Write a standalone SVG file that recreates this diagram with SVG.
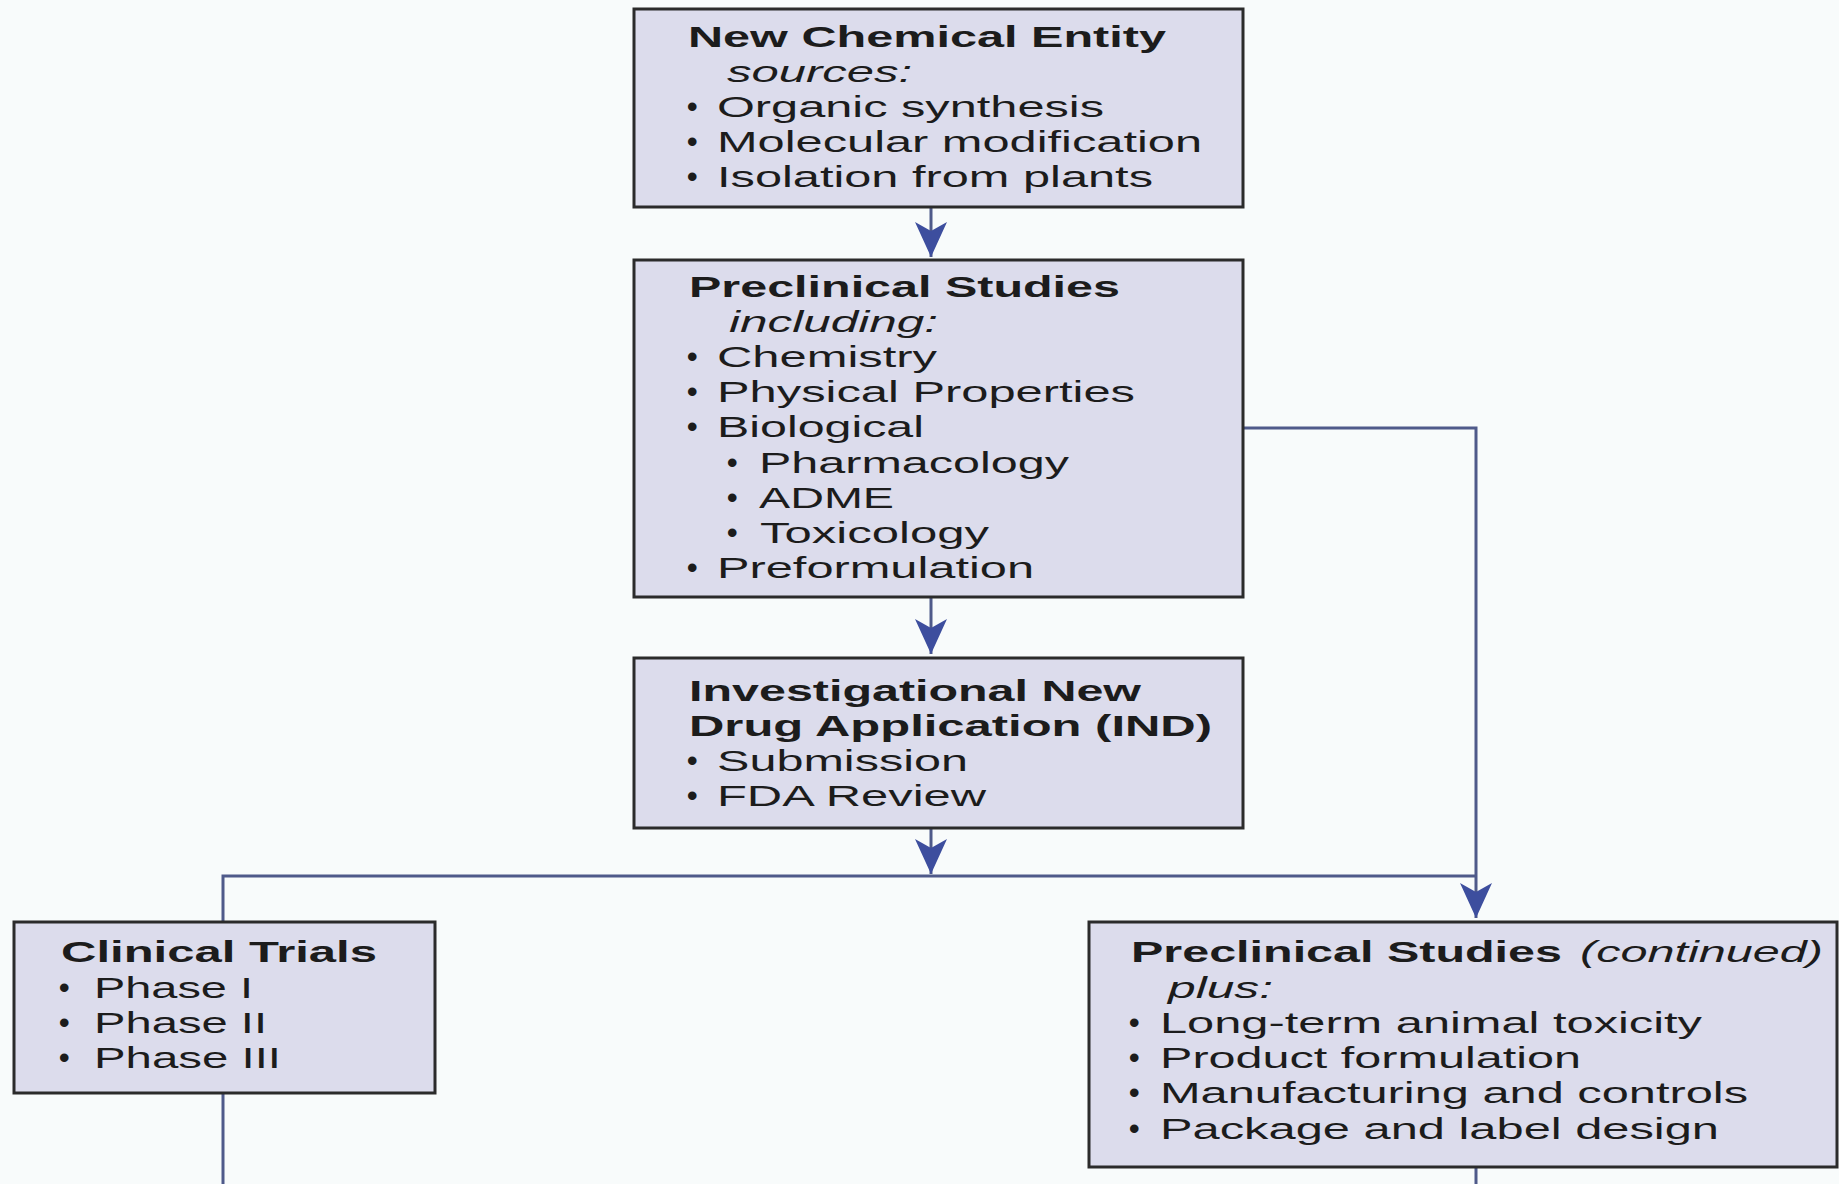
<svg xmlns="http://www.w3.org/2000/svg" width="1839" height="1184" viewBox="0 0 1839 1184">
<style>
.box{fill:#dcdcec;stroke:#2b2b2b;stroke-width:3}
.t{font-family:"Liberation Sans",Arial,sans-serif;font-size:30px;fill:#1c1c1c}
.b{font-weight:bold}
.i{font-style:italic}
.d{font-family:"Liberation Sans",Arial,sans-serif;font-size:30px;font-weight:bold;fill:#1c1c1c}
.c{fill:none;stroke:#4f5a8a;stroke-width:3}
</style>
<defs>
<marker id="ah" markerUnits="userSpaceOnUse" markerWidth="36" markerHeight="34" viewBox="0 0 36 34" refX="35" refY="17" orient="auto">
<path d="M0,1 L35,17 L0,33 L9,17 Z" fill="#3d4e9e"/>
</marker>
</defs>
<rect width="1839" height="1184" fill="#f8fbfb"/>

<g id="connectors">
<path class="c" d="M931,207 V257" marker-end="url(#ah)"/>
<path class="c" d="M931,597 V654" marker-end="url(#ah)"/>
<path class="c" d="M931,828 V874" marker-end="url(#ah)"/>
<path class="c" d="M1243,428 H1476 V918" marker-end="url(#ah)"/>
<path class="c" d="M223,922 V876 H1476"/>
<path class="c" d="M223,1093 V1184"/>
<path class="c" d="M1476,1167 V1184"/>
</g>

<g id="new-chemical-entity">
<rect class="box" x="634" y="9" width="609" height="198"/>
<text class="t b" x="688" y="47" textLength="478" lengthAdjust="spacingAndGlyphs">New Chemical Entity</text>
<text class="t i" x="727" y="82" textLength="185" lengthAdjust="spacingAndGlyphs">sources:</text>
<text class="d" x="687" y="117">•</text>
<text class="t" x="717" y="117" textLength="387" lengthAdjust="spacingAndGlyphs">Organic synthesis</text>
<text class="d" x="687" y="152">•</text>
<text class="t" x="717" y="152" textLength="485" lengthAdjust="spacingAndGlyphs">Molecular modification</text>
<text class="d" x="687" y="187">•</text>
<text class="t" x="717" y="187" textLength="436" lengthAdjust="spacingAndGlyphs">Isolation from plants</text>
</g>

<g id="preclinical-studies">
<rect class="box" x="634" y="260" width="609" height="337"/>
<text class="t b" x="689" y="297" textLength="431" lengthAdjust="spacingAndGlyphs">Preclinical Studies</text>
<text class="t i" x="729" y="332" textLength="209" lengthAdjust="spacingAndGlyphs">including:</text>
<text class="d" x="687" y="367">•</text>
<text class="t" x="717" y="367" textLength="220" lengthAdjust="spacingAndGlyphs">Chemistry</text>
<text class="d" x="687" y="402">•</text>
<text class="t" x="717" y="402" textLength="418" lengthAdjust="spacingAndGlyphs">Physical Properties</text>
<text class="d" x="687" y="437">•</text>
<text class="t" x="717" y="437" textLength="207" lengthAdjust="spacingAndGlyphs">Biological</text>
<text class="d" x="727" y="473">•</text>
<text class="t" x="759" y="473" textLength="310" lengthAdjust="spacingAndGlyphs">Pharmacology</text>
<text class="d" x="727" y="508">•</text>
<text class="t" x="759" y="508" textLength="135" lengthAdjust="spacingAndGlyphs">ADME</text>
<text class="d" x="727" y="543">•</text>
<text class="t" x="760" y="543" textLength="229" lengthAdjust="spacingAndGlyphs">Toxicology</text>
<text class="d" x="687" y="578">•</text>
<text class="t" x="717" y="578" textLength="317" lengthAdjust="spacingAndGlyphs">Preformulation</text>
</g>

<g id="ind">
<rect class="box" x="634" y="658" width="609" height="170"/>
<text class="t b" x="689" y="701" textLength="452" lengthAdjust="spacingAndGlyphs">Investigational New</text>
<text class="t b" x="689" y="736" textLength="523" lengthAdjust="spacingAndGlyphs">Drug Application (IND)</text>
<text class="d" x="687" y="771">•</text>
<text class="t" x="717" y="771" textLength="251" lengthAdjust="spacingAndGlyphs">Submission</text>
<text class="d" x="687" y="806">•</text>
<text class="t" x="717" y="806" textLength="269" lengthAdjust="spacingAndGlyphs">FDA Review</text>
</g>

<g id="clinical-trials">
<rect class="box" x="14" y="922" width="421" height="171"/>
<text class="t b" x="61" y="962" textLength="316" lengthAdjust="spacingAndGlyphs">Clinical Trials</text>
<text class="d" x="59" y="998">•</text>
<text class="t" x="94" y="998" textLength="159" lengthAdjust="spacingAndGlyphs">Phase I</text>
<text class="d" x="59" y="1033">•</text>
<text class="t" x="94" y="1033" textLength="173" lengthAdjust="spacingAndGlyphs">Phase II</text>
<text class="d" x="59" y="1068">•</text>
<text class="t" x="94" y="1068" textLength="187" lengthAdjust="spacingAndGlyphs">Phase III</text>
</g>

<g id="preclinical-continued">
<rect class="box" x="1089" y="922" width="748" height="245"/>
<text class="t b" x="1131" y="962" textLength="431" lengthAdjust="spacingAndGlyphs">Preclinical Studies</text>
<text class="t i" x="1580" y="962" textLength="243" lengthAdjust="spacingAndGlyphs">(continued)</text>
<text class="t i" x="1168" y="998" textLength="105" lengthAdjust="spacingAndGlyphs">plus:</text>
<text class="d" x="1129" y="1033">•</text>
<text class="t" x="1160" y="1033" textLength="542" lengthAdjust="spacingAndGlyphs">Long-term animal toxicity</text>
<text class="d" x="1129" y="1068">•</text>
<text class="t" x="1160" y="1068" textLength="421" lengthAdjust="spacingAndGlyphs">Product formulation</text>
<text class="d" x="1129" y="1103">•</text>
<text class="t" x="1160" y="1103" textLength="588" lengthAdjust="spacingAndGlyphs">Manufacturing and controls</text>
<text class="d" x="1129" y="1139">•</text>
<text class="t" x="1160" y="1139" textLength="559" lengthAdjust="spacingAndGlyphs">Package and label design</text>
</g>
</svg>
